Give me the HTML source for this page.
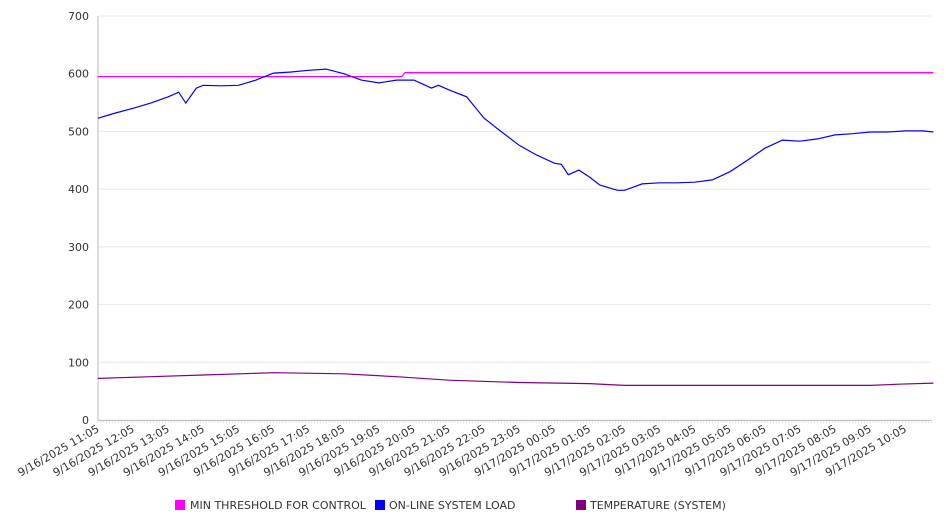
<!DOCTYPE html>
<html><head><meta charset="utf-8"><style>
body{margin:0;background:#fff;}
svg{display:block;font-family:"DejaVu Sans","Liberation Sans",sans-serif;}
</style></head><body>
<svg id="chart" width="946" height="526" viewBox="0 0 946 526" xmlns="http://www.w3.org/2000/svg">
<g id="grid"></g>
<g id="yaxis"></g>
<g id="xaxis"></g>
<g id="series"></g>
<g id="legend">
<rect x="175" y="500" width="10" height="10" fill="#ff00ff"/>
<text x="190" y="509" font-size="11" fill="#333">MIN THRESHOLD FOR CONTROL</text>
<rect x="375" y="500" width="10" height="10" fill="#0000ff"/>
<text x="389" y="509" font-size="11" fill="#333">ON-LINE SYSTEM LOAD</text>
<rect x="576" y="500" width="10" height="10" fill="#800080"/>
<text x="590" y="509" font-size="11" fill="#333">TEMPERATURE (SYSTEM)</text>
</g>
</svg>
<script>
const yTicks = [0,100,200,300,400,500,600,700];
const xLabels = ["9/16/2025 11:05","9/16/2025 12:05","9/16/2025 13:05","9/16/2025 14:05","9/16/2025 15:05","9/16/2025 16:05","9/16/2025 17:05","9/16/2025 18:05","9/16/2025 19:05","9/16/2025 20:05","9/16/2025 21:05","9/16/2025 22:05","9/16/2025 23:05","9/17/2025 00:05","9/17/2025 01:05","9/17/2025 02:05","9/17/2025 03:05","9/17/2025 04:05","9/17/2025 05:05","9/17/2025 06:05","9/17/2025 07:05","9/17/2025 08:05","9/17/2025 09:05","9/17/2025 10:05"];
// hours since 9/16 11:05
const loadHours = [0,0.5,1,1.5,2,2.3,2.5,2.8,3,3.5,4,4.5,5,5.5,6,6.5,7,7.5,8,8.5,9,9.5,9.7,10,10.5,11,11.5,12,12.5,13,13.2,13.4,13.7,14,14.3,14.8,15,15.5,16,16.5,17,17.5,18,18.5,19,19.5,20,20.5,21,21.5,22,22.5,23,23.5,23.8];
const loadValues = [523,532,540,549,560,568,549,575,580,579,580,589,601,603,606,608,600,589,584,589,589,575,580,572,560,523,499,476,459,445,443,425,433,421,407,398,398,409,411,411,412,416,430,450,471,485,483,487,494,496,499,499,501,501,499];
const threshHours = [0,8.65,8.75,23.8];
const threshValues = [595,595,602,602];
const tempHours = [0,1.5,3,5,7,8.5,10,12,14,15,18,22,22.8,23.8];
const tempValues = [72,75,78,82,80,75,69,65,63,60,60,60,62,64];

const X0=98, X1=931, Y0=420, Y1=16, PXH=35.1;
const xs = h => X0 + h*PXH;
const ys = v => Y0 - (v/700)*(Y0-Y1);
const NS="http://www.w3.org/2000/svg";
function mk(tag, parent, attrs){const e=document.createElementNS(NS,tag);for(const k in attrs)e.setAttribute(k,attrs[k]);parent.appendChild(e);return e;}
const grid=document.getElementById('grid'), ya=document.getElementById('yaxis'), xa=document.getElementById('xaxis'), ser=document.getElementById('series');
yTicks.forEach(v=>{
  const l=mk('line',grid,{x1:X0,x2:X1,y1:ys(v),y2:ys(v),stroke:'#e8e8e8','stroke-width':1});
  
  
  const t=mk('text',ya,{x:89,y:ys(v)+4,'text-anchor':'end','font-size':11,fill:'#333'});
  t.textContent=v;
  
  
});
const ax=mk('line',ya,{x1:X0,x2:X0,y1:Y1,y2:Y0,stroke:'#bbb'});


const bx=mk('line',xa,{x1:X0,x2:X1,y1:Y0+0.5,y2:Y0+0.5,stroke:'#bbb'});


for(let m=0;m<=23.8*12;m++){
  const x=xs(m/12);
  const tk=mk('line',xa,{x1:x,x2:x,y1:Y0,y2:Y0+3,stroke:'#ccc','stroke-width':0.6});
  
  
}
xLabels.forEach((s,i)=>{
  const x=xs(i);
  const t=mk('text',xa,{x:x+2,y:Y0+11,'text-anchor':'end','font-size':11,fill:'#333',transform:`rotate(-30 ${x+2} ${Y0+11})`});
  t.textContent=s;
  
  
});
function line(hs,vs,color,name){
  const d=hs.map((h,i)=>(i?'L':'M')+xs(h).toFixed(1)+','+ys(vs[i]).toFixed(1)).join(' ');
  const p=mk('path',ser,{d:d,fill:'none',stroke:color,'stroke-width':1.2});
  
  
}
line(threshHours,threshValues,'#ff00ff','threshold-line');
line(tempHours,tempValues,'#800080','temperature-line');
line(loadHours,loadValues,'#0000ff','load-line');
</script>
</body></html>
